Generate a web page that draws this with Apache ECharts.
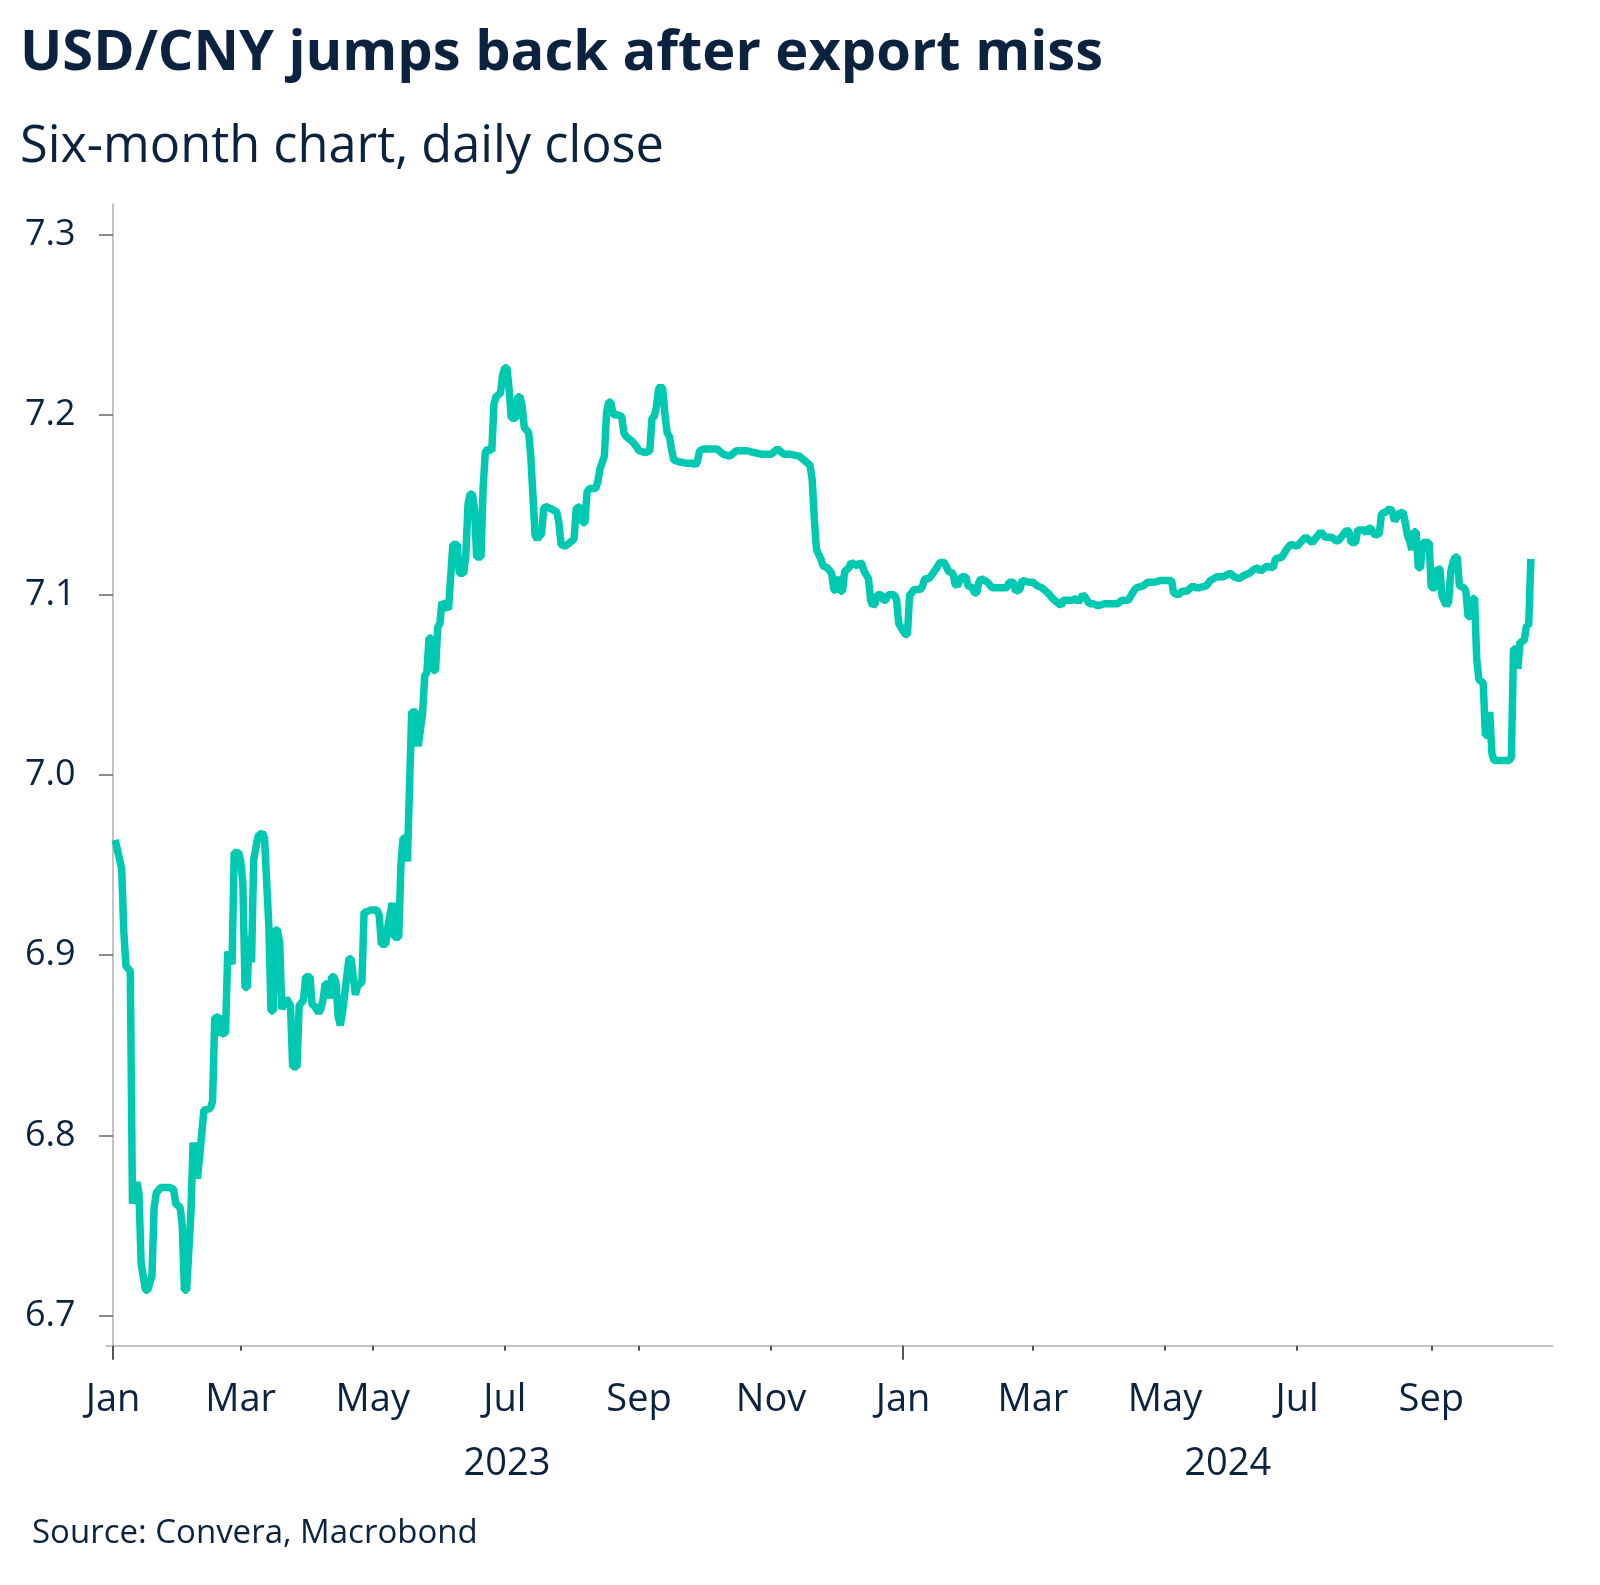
<!DOCTYPE html>
<html>
<head>
<meta charset="utf-8">
<script src="https://cdn.jsdelivr.net/npm/echarts@6/dist/echarts.min.js"></script>
<style>
html,body{margin:0;padding:0;background:#fff;}
#chart{width:1600px;height:1585px;}
</style>
</head>
<body>
<div id="chart"></div>
<script>
// Day offsets since 1 Jan 2023 (trading days)
const dayOffsets = [1,4,5,6,8,9,11,12,13,15,16,18,19,20,22,26,28,29,31,32,33,34,36,37,39,40,42,45,46,47,49,50,52,53,55,56,58,59,60,61,62,63,64,65,67,69,70,72,73,74,75,76,77,78,80,82,83,85,86,88,89,91,92,93,95,96,97,98,99,100,101,102,103,104,105,106,107,109,110,112,113,115,116,117,119,122,123,124,126,127,129,130,132,133,134,135,136,137,138,140,141,143,144,145,146,147,148,149,150,151,152,155,156,157,159,160,162,163,164,165,166,167,168,170,171,172,173,175,176,177,179,180,181,182,183,184,186,187,188,189,190,192,193,194,195,196,198,199,200,202,205,206,207,209,210,213,214,216,217,218,219,220,223,224,225,227,228,229,230,231,233,235,236,237,239,240,242,243,246,248,249,250,251,252,253,254,255,256,257,258,259,261,265,268,269,270,271,273,279,282,285,288,293,296,300,304,307,310,313,317,320,322,323,324,325,327,328,330,332,333,334,335,336,337,338,340,341,344,345,346,347,349,350,351,352,353,355,356,357,358,361,362,363,364,366,367,368,369,370,373,374,375,377,380,382,384,386,388,389,390,392,394,395,397,398,399,400,401,404,406,411,413,414,416,417,419,420,423,425,427,429,432,434,436,438,439,443,445,446,448,449,451,453,455,458,461,464,466,469,470,472,473,476,478,481,484,489,490,492,494,496,499,500,502,505,507,510,513,516,518,520,523,525,527,529,530,533,536,537,540,542,544,547,550,551,554,556,558,560,563,565,566,568,570,571,572,574,575,578,579,580,581,583,585,586,588,590,591,592,594,596,597,598,599,600,601,602,603,604,605,608,609,611,612,613,614,616,617,618,619,620,621,622,624,625,626,627,628,629,630,631,633,634,635,636,637,638,645,646,647,648,649,650,651,652,653,654,655];

// USD/CNY daily close
const closeValues = [6.964,6.948,6.913,6.894,6.891,6.762,6.774,6.768,6.729,6.714,6.714,6.722,6.760,6.768,6.771,6.771,6.770,6.762,6.760,6.750,6.714,6.714,6.757,6.796,6.776,6.788,6.814,6.815,6.819,6.865,6.866,6.856,6.857,6.902,6.895,6.957,6.957,6.952,6.940,6.882,6.882,6.911,6.896,6.953,6.966,6.968,6.965,6.916,6.869,6.869,6.914,6.914,6.907,6.870,6.876,6.872,6.838,6.838,6.872,6.875,6.888,6.888,6.872,6.872,6.868,6.870,6.875,6.884,6.884,6.876,6.888,6.888,6.885,6.866,6.861,6.868,6.878,6.898,6.898,6.878,6.883,6.885,6.924,6.924,6.925,6.925,6.922,6.906,6.906,6.916,6.929,6.910,6.910,6.950,6.965,6.965,6.952,6.994,7.035,7.035,7.016,7.034,7.055,7.057,7.076,7.076,7.058,7.058,7.082,7.084,7.096,7.092,7.110,7.128,7.128,7.112,7.112,7.122,7.150,7.156,7.156,7.148,7.121,7.121,7.160,7.179,7.181,7.180,7.206,7.210,7.212,7.222,7.226,7.226,7.214,7.198,7.198,7.210,7.210,7.205,7.193,7.190,7.177,7.155,7.133,7.131,7.134,7.148,7.149,7.148,7.146,7.140,7.128,7.127,7.128,7.131,7.148,7.149,7.140,7.140,7.157,7.159,7.159,7.163,7.170,7.177,7.201,7.207,7.207,7.200,7.200,7.199,7.190,7.188,7.186,7.185,7.182,7.180,7.179,7.180,7.198,7.199,7.204,7.214,7.216,7.214,7.200,7.190,7.188,7.181,7.175,7.174,7.173,7.173,7.172,7.174,7.180,7.181,7.181,7.178,7.177,7.180,7.180,7.179,7.178,7.178,7.181,7.178,7.178,7.177,7.174,7.172,7.164,7.142,7.125,7.120,7.116,7.115,7.112,7.103,7.102,7.110,7.102,7.102,7.113,7.115,7.118,7.116,7.118,7.117,7.113,7.109,7.097,7.094,7.095,7.100,7.100,7.097,7.097,7.100,7.100,7.097,7.084,7.082,7.078,7.078,7.100,7.101,7.103,7.103,7.105,7.109,7.109,7.114,7.118,7.118,7.113,7.112,7.106,7.105,7.110,7.110,7.105,7.104,7.101,7.101,7.107,7.109,7.107,7.104,7.104,7.104,7.107,7.107,7.102,7.103,7.108,7.107,7.107,7.105,7.104,7.101,7.098,7.096,7.094,7.097,7.097,7.098,7.096,7.100,7.099,7.095,7.095,7.094,7.095,7.095,7.095,7.097,7.097,7.099,7.103,7.104,7.105,7.107,7.107,7.108,7.108,7.101,7.100,7.102,7.102,7.105,7.104,7.104,7.105,7.108,7.110,7.110,7.112,7.110,7.109,7.111,7.112,7.114,7.115,7.113,7.116,7.115,7.120,7.121,7.125,7.128,7.127,7.131,7.132,7.129,7.132,7.135,7.132,7.132,7.130,7.130,7.133,7.136,7.135,7.129,7.129,7.136,7.136,7.134,7.137,7.137,7.133,7.134,7.145,7.146,7.148,7.146,7.141,7.145,7.146,7.140,7.133,7.130,7.125,7.135,7.135,7.115,7.115,7.129,7.129,7.104,7.104,7.115,7.114,7.099,7.094,7.096,7.113,7.118,7.121,7.121,7.105,7.104,7.102,7.088,7.088,7.098,7.098,7.064,7.053,7.051,7.022,7.022,7.035,7.012,7.008,7.008,7.010,7.070,7.070,7.059,7.074,7.074,7.075,7.083,7.083,7.120];

// Axis ticks and labels
const yTicks = [6.7, 6.8, 6.9, 7.0, 7.1, 7.2, 7.3];
const monthTickDates = ['2023-01-01','2023-03-01','2023-05-01','2023-07-01','2023-09-01','2023-11-01','2024-01-01','2024-03-01','2024-05-01','2024-07-01','2024-09-01'];
const monthTickLabels = ['Jan','Mar','May','Jul','Sep','Nov','Jan','Mar','May','Jul','Sep'];
const yearTickDates = ['2023-01-01','2024-01-01'];
const yearLabelDates = ['2023-07-02','2024-05-30'];
const yearLabels = ['2023','2024'];

const DAY = 86400000;
const BASE = Date.UTC(2023, 0, 1);
const toDay = s => Math.round((new Date(s + 'T00:00:00Z').getTime() - BASE) / DAY);

const seriesData = dayOffsets.map((d, i) => [d, closeValues[i]]);
const monthTicks = monthTickDates.map(toDay);
const yearTicks = yearTickDates.map(toDay);
const yearLabelPos = yearLabelDates.map(toDay);

const NAVY = '#0c2340';
const FONT = '"Open Sans", "Noto Sans", sans-serif';

const chart = echarts.init(document.getElementById('chart'), null, {renderer: 'canvas'});
chart.setOption({
  animation: false,
  backgroundColor: '#ffffff',
  title: [
    {text: 'USD/CNY jumps back after export miss', left: 20, top: 26, padding: 0,
     textStyle: {fontFamily: FONT, fontWeight: 'bold', fontSize: 56, color: NAVY}},
    {text: 'Six-month chart, daily close', left: 20, top: 122, padding: 0,
     textStyle: {fontFamily: FONT, fontWeight: 'normal', fontSize: 50.5, color: NAVY}},
    {text: 'Source: Convera, Macrobond', left: 32, top: 1517, padding: 0,
     textStyle: {fontFamily: FONT, fontWeight: 'normal', fontSize: 33, color: NAVY}}
  ],
  grid: {left: 106.5, right: 47.5, top: 204.3, bottom: 239.3, containLabel: false},
  xAxis: [
    {
      type: 'value', min: -3, max: 665,
      axisLine: {show: true, lineStyle: {color: '#c4c4c4', width: 2}},
      axisTick: {show: true, customValues: monthTicks, length: 5, lineStyle: {color: '#555', width: 2}},
      axisLabel: {show: true, customValues: monthTicks, margin: 35, hideOverlap: false,
        fontFamily: FONT, fontSize: 38, color: NAVY,
        formatter: v => { const i = monthTicks.indexOf(v); return i >= 0 ? monthTickLabels[i] : ''; }},
      splitLine: {show: false}
    },
    {
      type: 'value', min: -3, max: 665, position: 'bottom', gridIndex: 0,
      axisLine: {show: false},
      axisTick: {show: true, customValues: yearTicks, length: 14, lineStyle: {color: '#555', width: 2}},
      axisLabel: {show: true, customValues: yearLabelPos, margin: 99, hideOverlap: false,
        fontFamily: FONT, fontSize: 38, color: NAVY,
        formatter: v => { const i = yearLabelPos.indexOf(v); return i >= 0 ? yearLabels[i] : ''; }},
      splitLine: {show: false}
    }
  ],
  yAxis: {
    type: 'value', min: 6.6832, max: 7.3168,
    axisLine: {show: true, lineStyle: {color: '#c4c4c4', width: 2}},
    axisTick: {show: true, customValues: yTicks, length: 14, lineStyle: {color: '#666', width: 1.5}},
    axisLabel: {show: true, customValues: yTicks, margin: 31, fontFamily: FONT, fontSize: 36, color: NAVY,
      formatter: v => v.toFixed(1)},
    splitLine: {show: false}
  },
  series: [{
    type: 'line', xAxisIndex: 0, data: seriesData, showSymbol: false, symbol: 'none',
    lineStyle: {color: '#00c9b1', width: 7.5}, smooth: false
  }]
});
</script>
</body>
</html>
